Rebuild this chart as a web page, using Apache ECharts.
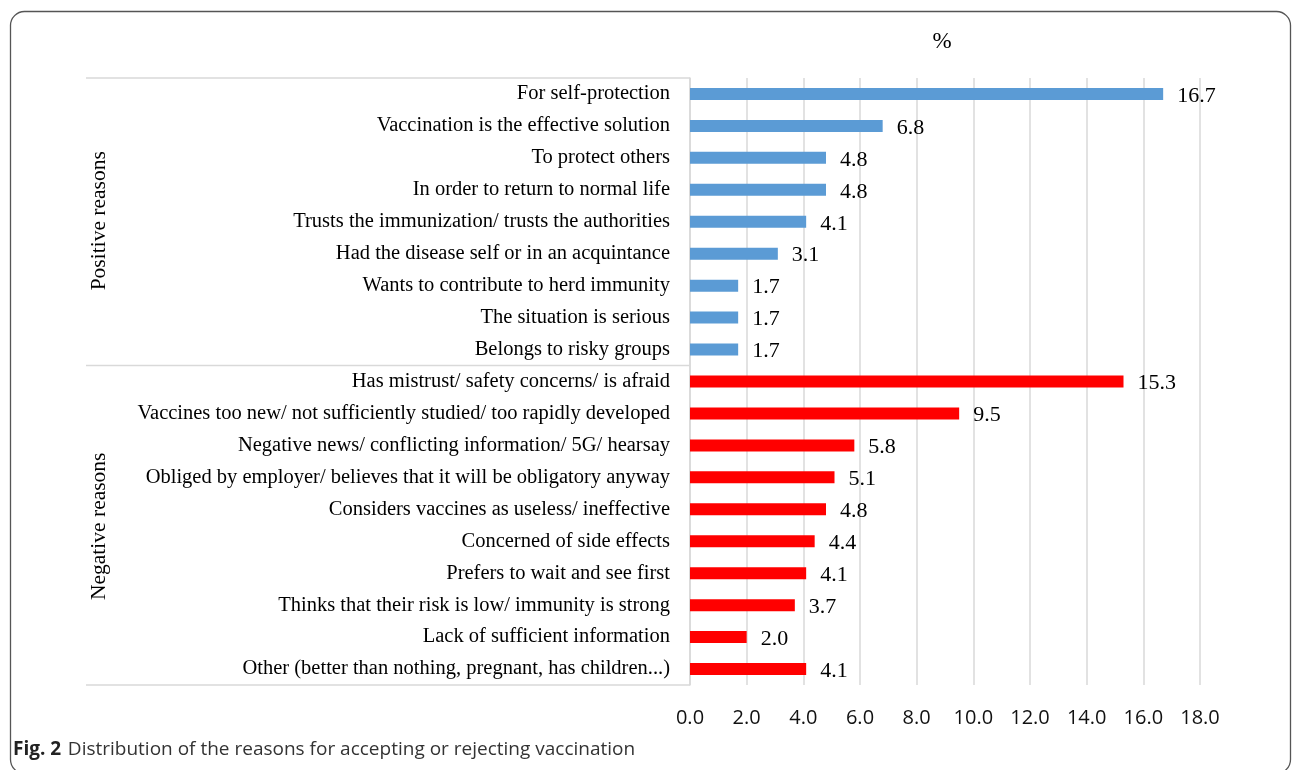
<!DOCTYPE html>
<html>
<head>
<meta charset="utf-8">
<script src="https://cdn.jsdelivr.net/npm/echarts@6/dist/echarts.min.js"></script>
<style>html,body{margin:0;padding:0;background:#fff;}#c{width:1293px;height:770px;}</style>
</head>
<body>
<div id="c"></div>
<script>
const positiveLabels = ["For self-protection","Vaccination is the effective solution","To protect others","In order to return to normal life","Trusts the immunization/ trusts the authorities","Had the disease self or in an acquintance","Wants to contribute to herd immunity","The situation is serious","Belongs to risky groups"];
const positiveValues = [16.7,6.8,4.8,4.8,4.1,3.1,1.7,1.7,1.7];
const negativeLabels = ["Has mistrust/ safety concerns/ is afraid","Vaccines too new/ not sufficiently studied/ too rapidly developed","Negative news/ conflicting information/ 5G/ hearsay","Obliged by employer/ believes that it will be obligatory anyway","Considers vaccines as useless/ ineffective","Concerned of side effects","Prefers to wait and see first","Thinks that their risk is low/ immunity is strong","Lack of sufficient information","Other (better than nothing, pregnant, has children...)"];
const negativeValues = [15.3,9.5,5.8,5.1,4.8,4.4,4.1,3.7,2.0,4.1];
const groupNames = ["Positive reasons","Negative reasons"];
const xTicks = [0,2,4,6,8,10,12,14,16,18];
const axisTitle = "%";
const captionBold = "Fig. 2";
const captionText = "Distribution of the reasons for accepting or rejecting vaccination";

const categories = positiveLabels.concat(negativeLabels);
const colors = ["#5B9BD5","#FF0000"];
const data = positiveValues.map(v => ({value:v, itemStyle:{color:colors[0]}}))
  .concat(negativeValues.map(v => ({value:v, itemStyle:{color:colors[1]}})));

const chart = echarts.init(document.getElementById('c'));
chart.setOption({
  animation:false,
  backgroundColor:'#fff',
  grid:{left:690, right:93, top:78, bottom:85, containLabel:false},
  xAxis:{
    type:'value', min:xTicks[0], max:xTicks[xTicks.length-1], interval:2,
    axisLine:{show:false}, axisTick:{show:false},
    splitLine:{lineStyle:{color:'#d9d9d9', width:1.5}},
    axisLabel:{formatter:v=>v.toFixed(1), fontFamily:'Open Sans', fontSize:20, color:'#111', margin:23}
  },
  yAxis:{
    type:'category', data:categories, inverse:true,
    axisLine:{show:true, lineStyle:{color:'#d9d9d9', width:1.5}},
    axisTick:{show:false},
    axisLabel:{fontFamily:'Liberation Serif', fontSize:20.5, color:'#000', margin:20, padding:[4,0,0,0]}
  },
  series:[{
    type:'bar', data:data, barWidth:12,
    label:{show:true, position:'right', distance:14, offset:[0,2], formatter:p=>p.value.toFixed(1),
      fontFamily:'Liberation Serif', fontSize:22, color:'#000'}
  }]
});

function build(){
  const n = categories.length;
  const y0 = chart.convertToPixel({yAxisIndex:0}, categories[0]);
  const y1 = chart.convertToPixel({yAxisIndex:0}, categories[1]);
  const band = y1 - y0;
  const xAxisPix = chart.convertToPixel({xAxisIndex:0}, 0);
  const top = y0 - band/2;
  const np = positiveLabels.length;
  const mid = chart.convertToPixel({yAxisIndex:0}, categories[np]) - band/2;
  const bottom = chart.convertToPixel({yAxisIndex:0}, categories[n-1]) + band/2;
  const leftX = 86;
  const lineStyle = {stroke:'#d9d9d9', lineWidth:1.5};
  const xPct = chart.convertToPixel({xAxisIndex:0}, 8.9);
  const els = [
    {type:'rect', shape:{x:10.5, y:11.5, width:1280, height:762, r:14}, style:{fill:'none', stroke:'#555', lineWidth:1.3}, silent:true},
    {type:'line', shape:{x1:leftX, y1:top, x2:xAxisPix, y2:top}, style:lineStyle},
    {type:'line', shape:{x1:leftX, y1:mid, x2:xAxisPix, y2:mid}, style:lineStyle},
    {type:'line', shape:{x1:leftX, y1:bottom, x2:xAxisPix, y2:bottom}, style:lineStyle},
    {type:'text', x:99, y:(top+mid)/2 - 1, rotation:Math.PI/2,
      style:{text:groupNames[0], font:'21.5px "Liberation Serif"', fill:'#000', align:'center', verticalAlign:'middle'}},
    {type:'text', x:99, y:(mid+bottom)/2 + 1, rotation:Math.PI/2,
      style:{text:groupNames[1], font:'21.5px "Liberation Serif"', fill:'#000', align:'center', verticalAlign:'middle'}},
    {type:'text', x:xPct, y:42,
      style:{text:axisTitle, font:'23px "Liberation Serif"', fill:'#000', align:'center', verticalAlign:'middle'}},
    {type:'text', x:13, y:750,
      style:{text:'{b|'+captionBold+'}  {r|'+captionText+'}', verticalAlign:'middle',
        rich:{b:{fontFamily:'Open Sans', fontWeight:'bold', fontSize:19, fill:'#222'},
              r:{fontFamily:'Open Sans', fontSize:19, fill:'#333'}}}}
  ];
  chart.setOption({graphic:{elements:els}});
}
build();
</script>
</body>
</html>
